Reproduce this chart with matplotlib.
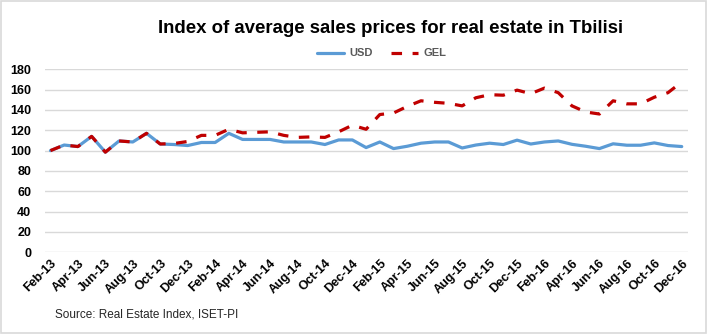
import matplotlib.pyplot as plt
from matplotlib.patches import Rectangle

# monthly index, Feb-13 .. Dec-16
months = ['Feb-13', 'Mar-13', 'Apr-13', 'May-13', 'Jun-13', 'Jul-13', 'Aug-13', 'Sep-13',
          'Oct-13', 'Nov-13', 'Dec-13', 'Jan-14', 'Feb-14', 'Mar-14', 'Apr-14', 'May-14',
          'Jun-14', 'Jul-14', 'Aug-14', 'Sep-14', 'Oct-14', 'Nov-14', 'Dec-14', 'Jan-15',
          'Feb-15', 'Mar-15', 'Apr-15', 'May-15', 'Jun-15', 'Jul-15', 'Aug-15', 'Sep-15',
          'Oct-15', 'Nov-15', 'Dec-15', 'Jan-16', 'Feb-16', 'Mar-16', 'Apr-16', 'May-16',
          'Jun-16', 'Jul-16', 'Aug-16', 'Sep-16', 'Oct-16', 'Nov-16', 'Dec-16']

usd = [100, 105.5, 104, 114, 98.5, 109.5, 108.5, 117, 106.5, 106, 105, 108, 108, 117,
       111, 111, 111, 108.5, 108.5, 108.5, 106, 110.5, 110.5, 103, 108.5, 102, 104.3,
       107.3, 108.5, 108.5, 102.6, 105.5, 107.3, 106, 110.3, 106.5, 108.5, 109.5, 106.2,
       104.3, 102, 106.7, 105.3, 105.3, 107.6, 105, 104]

gel = [100, 105.5, 104, 114, 98.5, 109.5, 108.5, 117, 106.5, 107, 109, 115, 115, 121,
       117.5, 118, 118.5, 115, 113, 113.5, 113, 118.5, 125, 121, 135.5, 137, 143.5,
       149, 147.5, 146.5, 144, 152, 155, 154.5, 159.5, 156, 161.5, 157, 144, 138,
       136, 149, 146, 146, 152.5, 157, 167.5]

yticks = [0, 20, 40, 60, 80, 100, 120, 140, 160, 180]

fig = plt.figure(figsize=(7.07, 3.34), dpi=100)
fig.patches.append(Rectangle((0.001, 0.002), 0.997, 0.995, transform=fig.transFigure,
                             fill=False, edgecolor='#D9D9D9', linewidth=1.2))

ax = fig.add_axes([0.0636, 0.2446, 0.9094, 0.548])
x = list(range(len(months)))
ax.plot(x, usd, color='#5B9BD5', linewidth=2.3, label='USD', solid_capstyle='round')
ax.plot(x, gel, color='#C00000', linewidth=2.3, linestyle=(0, (3.3, 3.3)), label='GEL')

ax.set_xlim(-0.4, 46.45)
ax.set_ylim(0, 180)
ax.set_yticks(yticks)
ax.grid(axis='y', color='#D9D9D9', linewidth=1)
ax.set_axisbelow(True)
for s in ax.spines.values():
    s.set_visible(False)
ax.tick_params(length=0)
ax.tick_params(axis='y', pad=10)
ax.set_xticks(x[::2])
ax.set_xticklabels(months[::2], rotation=45, ha='right', rotation_mode='anchor',
                   fontweight='bold', fontsize=9, family='Liberation Sans')
for t in ax.get_yticklabels():
    t.set_fontweight('bold')
    t.set_fontsize(9)
    t.set_family('Liberation Sans')

fig.text(0.553, 0.915, 'Index of average sales prices for real estate in Tbilisi',
         ha='center', va='center', fontsize=13.4, fontweight='bold',
         family='Liberation Sans')
ax.legend(loc='center', bbox_to_anchor=(0.54, 0.84), bbox_transform=fig.transFigure,
          ncol=2, frameon=False, handlelength=2.4, columnspacing=1.6, handletextpad=0.5,
          prop={'family': 'Liberation Sans', 'size': 8, 'weight': 'bold'},
          labelcolor='#595959')
fig.text(0.078, 0.048, 'Source: Real Estate Index, ISET-PI', fontsize=8.5,
         color='#262626', family='Liberation Sans')

fig.savefig('out.png', dpi=100)
